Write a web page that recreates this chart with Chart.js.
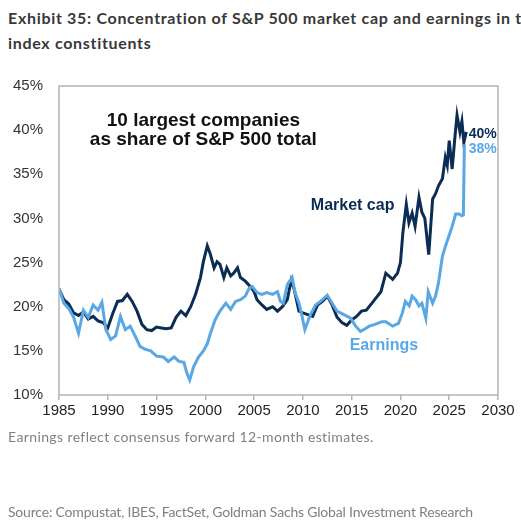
<!DOCTYPE html>
<html>
<head>
<meta charset="utf-8">
<script src="https://cdn.jsdelivr.net/npm/chart.js@4.4.1/dist/chart.umd.min.js"></script>
<style>
  body { margin: 0; background: #fff; width: 521px; height: 527px; overflow: hidden; position: relative; }
  .title { position: absolute; left: 8px; font-family: Lato, "Open Sans", sans-serif; font-weight: bold; font-size: 16px; color: #383838; white-space: nowrap; }
  .note { position: absolute; left: 8px; font-family: Lato, "Open Sans", sans-serif; font-size: 14px; color: #808080; white-space: nowrap; }
  #chart { position: absolute; left: 0; top: 0; }
</style>
</head>
<body>
<div class="title" id="t1" style="top:8px"><span id="t1fit">Exhibit 35: Concentration of S&amp;P 500 market cap and earnings in</span> top 10</div>
<div class="title" id="t2" style="top:33px">index constituents</div>
<canvas id="chart" width="521" height="527"></canvas>
<div class="note" id="n1" style="top:428px">Earnings reflect consensus forward 12-month estimates.</div>
<div class="note" id="n2" style="top:503px">Source: Compustat, IBES, FactSet, Goldman Sachs Global Investment Research</div>
<script>
// 10 largest companies, share of S&P 500 total (%)
var mcapYears = [1985.0, 1985.5, 1986.0, 1986.5, 1987.0, 1987.5, 1988.0, 1988.5, 1989.0, 1989.5,
    1990.0, 1990.5, 1991.0, 1991.5, 1992.0, 1992.5, 1993.0, 1993.5, 1994.0, 1994.5,
    1995.0, 1995.5, 1996.0, 1996.5, 1997.0, 1997.5, 1998.0, 1998.5, 1999.0, 1999.5,
    1999.8, 2000.2, 2000.5, 2000.9, 2001.2, 2001.5, 2001.9, 2002.2, 2002.6, 2002.9,
    2003.3, 2003.6, 2004.1, 2004.6, 2005.0, 2005.3, 2005.8, 2006.3, 2006.9, 2007.4,
    2007.9, 2008.4, 2008.8, 2009.1, 2009.6, 2010.0, 2010.5, 2011.0, 2011.5, 2012.0,
    2012.5, 2013.0, 2013.5, 2014.0, 2014.5, 2015.0, 2015.5, 2016.0, 2016.5, 2017.0,
    2017.5, 2018.0, 2018.5, 2019.2, 2019.7, 2020.0, 2020.25, 2020.6, 2020.87, 2021.2,
    2021.5, 2021.9, 2022.2, 2022.5, 2022.9, 2023.3, 2023.6, 2023.9, 2024.3, 2024.6,
    2024.8, 2025.0, 2025.3, 2025.6, 2025.8, 2026.1, 2026.3, 2026.5, 2026.75];
var mcapShare = [22.0, 20.8, 20.3, 19.3, 19.0, 19.4, 18.6, 18.9, 18.4, 18.2,
    17.6, 19.2, 20.6, 20.7, 21.4, 20.6, 19.5, 18.0, 17.4, 17.3,
    17.7, 17.6, 17.5, 17.6, 18.8, 19.5, 19.0, 20.0, 21.4, 23.3,
    25.1, 26.9, 26.0, 24.4, 25.1, 24.8, 23.3, 24.4, 23.5, 23.8,
    24.4, 23.3, 22.9, 22.3, 21.7, 20.8, 20.2, 19.7, 20.0, 19.5,
    20.0, 20.8, 23.0, 22.0, 19.5, 19.3, 19.1, 18.9, 20.2, 20.6,
    21.2, 20.2, 18.8, 18.2, 17.9, 18.5, 18.9, 19.5, 19.6, 20.3,
    21.0, 21.7, 23.8, 23.1, 23.8, 25.0, 28.4, 31.6, 29.5, 30.6,
    29.1, 32.4, 30.7, 30.0, 25.9, 32.2, 32.8, 33.7, 34.5, 36.9,
    36.0, 38.8, 35.6, 39.4, 41.7, 39.8, 41.0, 38.6, 39.8];

var earnYears = [1985.0, 1985.5, 1986.0, 1986.5, 1987.0, 1987.5, 1988.0, 1988.5, 1989.0, 1989.4,
    1989.8, 1990.3, 1990.8, 1991.3, 1991.8, 1992.3, 1992.8, 1993.3, 1993.8, 1994.4,
    1995.0, 1995.7, 1996.2, 1996.8, 1997.3, 1997.8, 1998.1, 1998.4, 1998.8, 1999.3,
    1999.8, 2000.2, 2000.5, 2001.0, 2001.5, 2002.1, 2002.6, 2003.1, 2003.6, 2004.1,
    2004.5, 2004.8, 2005.3, 2005.8, 2006.3, 2006.9, 2007.4, 2007.7, 2008.0, 2008.4,
    2008.9, 2009.2, 2009.6, 2009.9, 2010.2, 2010.7, 2011.3, 2011.8, 2012.5, 2013.0,
    2013.5, 2014.2, 2014.9, 2015.4, 2015.9, 2016.4, 2016.8, 2017.4, 2018.1, 2018.5,
    2019.2, 2019.8, 2020.2, 2020.5, 2020.9, 2021.2, 2021.55, 2021.9, 2022.2, 2022.6,
    2022.85, 2023.3, 2023.6, 2023.9, 2024.3, 2024.6, 2024.97, 2025.3, 2025.66, 2026.0,
    2026.3, 2026.45, 2026.55];
var earnShare = [22.1, 20.4, 19.8, 18.8, 17.0, 19.6, 18.8, 20.2, 19.6, 20.5,
    17.4, 16.3, 16.7, 18.9, 17.4, 17.8, 16.7, 15.5, 15.2, 15.0,
    14.4, 14.3, 13.8, 14.3, 13.8, 13.7, 12.5, 11.7, 13.2, 14.3,
    15.0, 15.8, 16.9, 18.5, 19.5, 20.4, 19.7, 20.6, 20.8, 21.2,
    22.1, 22.3, 21.6, 21.4, 21.6, 21.4, 21.7, 20.6, 20.4, 22.5,
    23.3, 21.6, 20.4, 19.0, 17.4, 18.9, 20.2, 20.6, 21.3, 20.4,
    19.5, 19.1, 18.7, 17.8, 17.2, 17.5, 17.8, 18.0, 18.3, 18.3,
    17.8, 18.1, 19.3, 20.6, 20.1, 21.2, 20.8, 20.1, 20.4, 18.7,
    21.7, 20.4, 21.2, 22.7, 25.7, 26.8, 28.0, 29.1, 30.5, 30.5,
    30.3, 30.4, 38.4];

var yearTicks = [1985, 1990, 1995, 2000, 2005, 2010, 2015, 2020, 2025, 2030];

var navy = '#0b2d54';
var sky = '#59a7e3';

function toPoints(xs, ys) {
    return xs.map(function(x, i) { return { x: x, y: ys[i] }; });
}

// stretch the Lato text to the width the original (Calibri) text takes
function fitText(measureEl, target, els) {
    var w = measureEl.getBoundingClientRect().width;
    var ls = (target - w) / measureEl.textContent.length;
    els.forEach(function(e) { e.style.letterSpacing = ls + 'px'; });
}
fitText(document.getElementById('t1fit'), 503, [document.getElementById('t1'), document.getElementById('t2')]);
fitText(document.getElementById('n1'), 366, [document.getElementById('n1')]);
fitText(document.getElementById('n2'), 465, [document.getElementById('n2')]);

// text placed in data coordinates
var labels = [
    { text: '10 largest companies', x: 1999.8, y: 41.1, font: 'bold 19px "Liberation Sans", Arial', color: '#111', align: 'center' },
    { text: 'as share of S&P 500 total', x: 1999.8, y: 38.9, font: 'bold 19px "Liberation Sans", Arial', color: '#111', align: 'center' },
    { text: 'Market cap', x: 2015.1, y: 31.4, font: 'bold 16px "Liberation Sans", Arial', color: navy, align: 'center' },
    { text: 'Earnings', x: 2018.3, y: 15.6, font: 'bold 16px "Liberation Sans", Arial', color: sky, align: 'center' },
    { text: '40%', x: 2027.0, y: 39.6, font: 'bold 14px "Liberation Sans", Arial', color: navy, align: 'left' },
    { text: '38%', x: 2027.0, y: 37.85, font: 'bold 14px "Liberation Sans", Arial', color: sky, align: 'left' }
];

var boxPlugin = {
    id: 'box',
    afterDraw: function(chart) {
        var ctx = chart.ctx, a = chart.chartArea;
        var xs = chart.scales.x, ys = chart.scales.y;
        ctx.save();
        ctx.strokeStyle = '#b4b4b4';
        ctx.lineWidth = 1.5;
        ctx.strokeRect(a.left, a.top, a.right - a.left, a.bottom - a.top);
        ctx.textBaseline = 'middle';
        labels.forEach(function(l) {
            ctx.font = l.font;
            ctx.fillStyle = l.color;
            ctx.textAlign = l.align;
            ctx.fillText(l.text, xs.getPixelForValue(l.x), ys.getPixelForValue(l.y));
        });
        ctx.restore();
    }
};

new Chart(document.getElementById('chart'), {
    type: 'line',
    data: {
        datasets: [{
            label: 'Earnings',
            data: toPoints(earnYears, earnShare),
            borderColor: sky,
            borderWidth: 3,
            pointRadius: 0,
            tension: 0,
            order: 1
        }, {
            label: 'Market cap',
            data: toPoints(mcapYears, mcapShare),
            borderColor: navy,
            borderWidth: 3,
            pointRadius: 0,
            tension: 0,
            order: 2
        }]
    },
    options: {
        responsive: false,
        animation: false,
        devicePixelRatio: 1,
        layout: { padding: { left: 0, right: 23, top: 86, bottom: 0 } },
        plugins: { legend: { display: false }, tooltip: { enabled: false } },
        scales: {
            x: {
                type: 'linear',
                min: 1985,
                max: 2030,
                afterFit: function(s) { s.height = 132; },
                afterBuildTicks: function(s) { s.ticks = yearTicks.map(function(v) { return { value: v }; }); },
                ticks: { color: '#222', font: { family: '"Liberation Sans", Arial', size: 15 }, padding: 2, maxRotation: 0,
                    callback: function(v) { return String(v); } },
                grid: { drawOnChartArea: false, drawTicks: true, tickLength: 5, color: '#b4b4b4', lineWidth: 1.5 },
                border: { display: false }
            },
            y: {
                min: 10,
                max: 45,
                afterFit: function(s) { s.width = 59; },
                ticks: { stepSize: 5, color: '#333', font: { family: '"Liberation Sans", Arial', size: 15 }, padding: 16,
                    callback: function(v) { return v + '%'; } },
                grid: { display: false, drawTicks: false },
                border: { display: false }
            }
        }
    },
    plugins: [boxPlugin]
});
</script>
</body>
</html>
